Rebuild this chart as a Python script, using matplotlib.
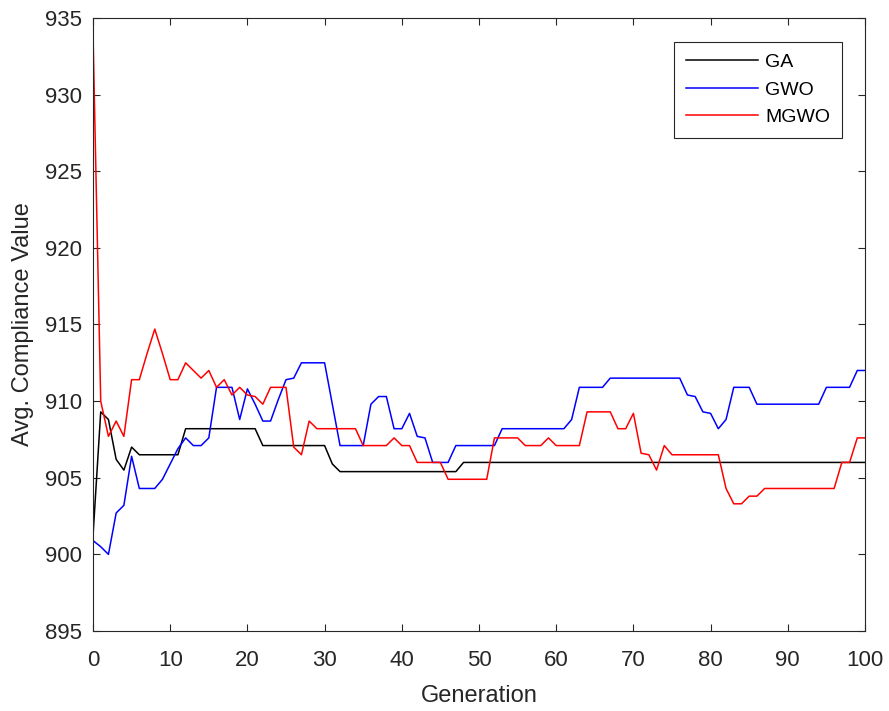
import numpy as np
import matplotlib
matplotlib.use("Agg")
import matplotlib.pyplot as plt

generations = np.arange(0, 101)

ga = ([901.2, 909.3, 908.8, 906.2, 905.5, 907.0]
      + [906.5] * 6
      + [908.2] * 10
      + [907.1] * 9
      + [905.9]
      + [905.4] * 16
      + [906.0] * 53)

gwo = ([900.9, 900.5, 900.0, 902.7, 903.2, 906.4, 904.3, 904.3, 904.3, 904.9,
        905.9, 906.9, 907.6, 907.1, 907.1, 907.6, 910.9, 910.9, 910.9, 908.8,
        910.8, 909.8, 908.7, 908.7, 910.1, 911.4, 911.5, 912.5, 912.5, 912.5,
        912.5, 909.8, 907.1, 907.1, 907.1, 907.1, 909.8, 910.3, 910.3, 908.2,
        908.2, 909.2, 907.7, 907.6, 906.0, 906.0, 906.0, 907.1]
       + [907.1] * 5
       + [908.2] * 9
       + [908.8, 910.9, 910.9, 910.9, 910.9]
       + [911.5] * 10
       + [910.4, 910.3, 909.3, 909.2, 908.2, 908.8, 910.9, 910.9, 910.9]
       + [909.8] * 9
       + [910.9] * 4
       + [912.0, 912.0])

mgwo = ([934.0, 910.0, 907.7, 908.7, 907.7, 911.4, 911.4, 913.1, 914.7, 913.1,
         911.4, 911.4, 912.5, 912.0, 911.5, 912.0, 910.9, 911.4, 910.4, 910.9,
         910.4, 910.3, 909.8, 910.9, 910.9, 910.9, 907.0, 906.5, 908.7, 908.2]
        + [908.2] * 5
        + [907.1] * 4
        + [907.6, 907.1, 907.1]
        + [906.0] * 4
        + [904.9] * 6
        + [907.6] * 4
        + [907.1] * 3
        + [907.6]
        + [907.1] * 4
        + [909.3] * 4
        + [908.2, 908.2, 909.2, 906.6, 906.5, 905.5, 907.1]
        + [906.5] * 7
        + [904.3, 903.3, 903.3, 903.8, 903.8]
        + [904.3] * 10
        + [906.0, 906.0, 907.6, 907.6])

plt.rcParams['font.family'] = ['Liberation Sans', 'DejaVu Sans']
text_color = '#262626'

fig = plt.figure(figsize=(8.89, 7.11), dpi=100)
ax = fig.add_axes([93 / 889, 1 - 631 / 711, 772 / 889, 613 / 711])

ax.plot(generations, ga, color='k', lw=1.1, label='GA')
ax.plot(generations, gwo, color='#0000ff', lw=1.1, label='GWO')
ax.plot(generations, mgwo, color='#ff0000', lw=1.1, label='MGWO')

ax.set_xlim(0, 100)
ax.set_ylim(895, 935)
ax.set_xticks(np.arange(0, 101, 10))
ax.set_yticks(np.arange(895, 936, 5))
ax.tick_params(direction='in', length=5, width=0.8, top=True, right=True,
               labelsize=16, colors=text_color)
ax.tick_params(axis='x', pad=14)
ax.tick_params(axis='y', pad=8)
for sp in ax.spines.values():
    sp.set_color(text_color)
    sp.set_linewidth(0.8)

ax.set_xlabel('Generation', fontsize=17, color=text_color, labelpad=10)
ax.set_ylabel('Avg. Compliance Value', fontsize=17, color=text_color, labelpad=8)

leg = ax.legend(loc='upper right', bbox_to_anchor=(842 / 889, 1 - 42 / 711),
                bbox_transform=fig.transFigure, borderaxespad=0,
                fontsize=14, handlelength=3.7, handletextpad=0.4,
                fancybox=False, edgecolor=text_color, framealpha=1,
                labelspacing=0.5, borderpad=0.6)
leg.get_frame().set_linewidth(0.8)

fig.savefig('out.png', dpi=100)
